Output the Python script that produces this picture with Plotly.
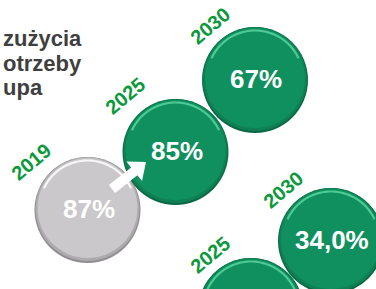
import numpy as np
import plotly.graph_objects as go

# ---- data ----
years_a = ["2019", "2025", "2030"]
values_a = [87, 85, 67]
years_b = ["2025", "2030"]
values_b = [None, 34.0]
heading_lines = ["zużycia", "otrzeby", "upa"]

# ---- layout constants (pixel canvas) ----
W, H = 376, 289
R = 53
centers_a = [(87.5, 210), (175.5, 152), (255, 80)]
centers_b = [(251, 311), (331, 241)]
label_pos_a = [(31, 162), (125, 96), (210, 26)]
label_pos_b = [(210, 255), (283, 190)]
kinds_a = ["gray", "green", "green"]
kinds_b = ["green", "green"]

palette = {
    "green": dict(rim="#0a6944", mid="#0e8054", base="#11905f", hi="#4cc994"),
    "gray": dict(rim="#8f8d8f", mid="#adabad", base="#cac8ca", hi="#f6f6f6"),
}
YEAR_COLOR = "#0c993c"

shapes = []
annotations = []


def circle(cx, cy, r, color):
    return dict(type="circle", xref="x", yref="y", x0=cx - r, x1=cx + r,
                y0=cy - r, y1=cy + r, fillcolor=color, line=dict(width=0),
                layer="below")


def arc(cx, cy, r, a0, a1, color, width):
    t = np.radians(np.linspace(a0, a1, 40))
    xs = cx + r * np.cos(t)
    ys = cy + r * np.sin(t)
    path = "M " + " L ".join(f"{x:.2f},{y:.2f}" for x, y in zip(xs, ys))
    return dict(type="path", xref="x", yref="y", path=path,
                line=dict(color=color, width=width), layer="below")


def bubble(cx, cy, kind):
    p = palette[kind]
    shapes.append(circle(cx, cy, R, p["rim"]))
    shapes.append(circle(cx, cy - 1, R - 1, p["mid"]))
    shapes.append(circle(cx, cy - 2, R - 3, p["base"]))
    shapes.append(arc(cx, cy - 1.5, R - 5, 205, 335, p["hi"], 2.2))


def fmt(v):
    if v is None:
        return None
    if isinstance(v, float):
        return f"{v:.1f}".replace(".", ",") + "%"
    return f"{v}%"


for yrs, vals, cents, lps, kinds in [(years_a, values_a, centers_a, label_pos_a, kinds_a),
                                     (years_b, values_b, centers_b, label_pos_b, kinds_b)]:
    for yr, v, (cx, cy), (lx, ly), k in zip(yrs, vals, cents, lps, kinds):
        bubble(cx, cy, k)
        t = fmt(v)
        if t:
            annotations.append(dict(x=cx + 1, y=cy - 1, xref="x", yref="y", text=f"<b>{t}</b>",
                                    showarrow=False, xanchor="center", yanchor="middle",
                                    font=dict(family="Liberation Sans, Arial", size=26, color="white")))
        annotations.append(dict(x=lx, y=ly, xref="x", yref="y",
                                text=f"<b>{yr}</b>", showarrow=False, textangle=-40,
                                xanchor="center", yanchor="middle",
                                font=dict(family="Liberation Sans, Arial", size=20, color=YEAR_COLOR)))

# arrow from 2019 bubble toward 2025 bubble
start = np.array([112.0, 189.0])
tip = np.array([146.0, 162.0])
d = tip - start
u = d / np.linalg.norm(d)
n = np.array([-u[1], u[0]])
head_len, shaft_w, head_w = 15, 10, 25
hb = tip - u * head_len
pts = [start + n * shaft_w / 2, hb + n * shaft_w / 2, hb + n * head_w / 2, tip,
       hb - n * head_w / 2, hb - n * shaft_w / 2, start - n * shaft_w / 2]
path = "M " + " L ".join(f"{p[0]:.2f},{p[1]:.2f}" for p in pts) + " Z"
shapes.append(dict(type="path", xref="x", yref="y", path=path, fillcolor="white",
                   line=dict(width=0), layer="above"))

# heading lines
for txt, yc in zip(heading_lines, [38, 63, 87]):
    annotations.append(dict(x=1, y=yc, xref="x", yref="y", text=f"<b>{txt}</b>",
                            showarrow=False, xanchor="left", yanchor="middle",
                            font=dict(family="Liberation Sans, Arial", size=22, color="#3f3f3f")))

fig = go.Figure()
fig.add_trace(go.Scatter(x=[0], y=[0], mode="markers", marker=dict(opacity=0),
                         hoverinfo="skip", showlegend=False))
fig.update_layout(
    width=W, height=H, margin=dict(l=0, r=0, t=0, b=0),
    paper_bgcolor="white", plot_bgcolor="white",
    xaxis=dict(range=[0, W], visible=False, fixedrange=True),
    yaxis=dict(range=[H, 0], visible=False, fixedrange=True),
    shapes=shapes, annotations=annotations, showlegend=False,
)
fig.write_html("out.html", config={"displayModeBar": False},
               post_script="document.body.style.margin='0';document.body.style.overflow='hidden';")
